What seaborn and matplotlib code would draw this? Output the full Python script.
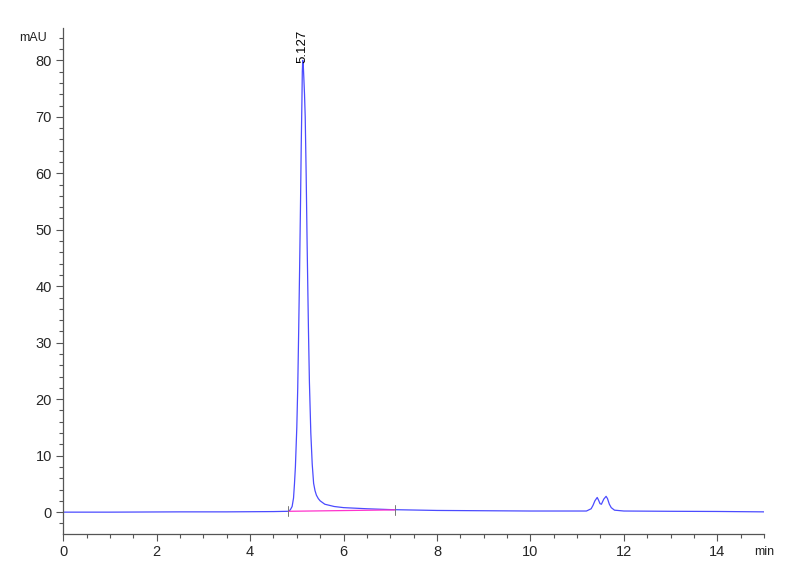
import seaborn as sns
import matplotlib.pyplot as plt
from matplotlib.ticker import MultipleLocator
import pandas as pd

# Chromatogram trace (time in min, signal in mAU)
time_min = [0.0, 1.0, 2.5, 3.5, 4.5, 4.82, 4.86, 4.9, 4.93, 4.95, 4.97, 5.0, 5.02,
            5.04, 5.06, 5.08, 5.095, 5.11, 5.118, 5.127, 5.137, 5.15, 5.165, 5.18,
            5.2, 5.22, 5.235, 5.25, 5.27, 5.3, 5.33, 5.36, 5.39, 5.42, 5.46, 5.5,
            5.6, 5.8, 6.0, 6.5, 7.0, 8.0, 9.0, 10.0, 11.2, 11.3, 11.34, 11.38,
            11.43, 11.46, 11.49, 11.52, 11.57, 11.62, 11.65, 11.69, 11.73, 11.8,
            12.0, 13.0, 14.0, 15.0]
signal_mau = [0.0, 0.0, 0.05, 0.05, 0.1, 0.15, 0.4, 1.0, 2.5, 5.0, 8.0, 15.0, 22.0,
              32.0, 43.0, 55.0, 65.0, 73.0, 78.0, 80.0, 79.5, 77.0, 74.0, 70.0,
              60.0, 48.0, 40.0, 32.0, 23.0, 14.0, 8.5, 5.1, 3.8, 3.0, 2.4, 2.0,
              1.4, 1.0, 0.8, 0.6, 0.45, 0.3, 0.25, 0.2, 0.2, 0.6, 1.2, 2.0,
              2.6, 2.1, 1.5, 1.4, 2.3, 2.8, 2.4, 1.4, 0.8, 0.35,
              0.2, 0.15, 0.12, 0.05]

# integration baseline of the main peak
base_time = [4.82, 7.1]
base_level = [0.15, 0.4]

peak_rt = 5.127
peak_height = 80.0

df = pd.DataFrame({"time": time_min, "signal": signal_mau})

sns.set_theme(style="ticks")
plt.rcParams["font.family"] = ["Liberation Sans", "DejaVu Sans"]

fig = plt.figure(figsize=(8, 5.87), dpi=100)
ax = fig.add_axes([0.079, 0.09, 0.876, 0.863])

sns.lineplot(data=df, x="time", y="signal", ax=ax, color="#4b4bff", lw=0.9)

# baseline + start/end markers
ax.plot(base_time, base_level, color="#ff33cc", lw=0.9)
for bt, bl in zip(base_time, base_level):
    ax.plot([bt, bt], [bl - 0.9, bl + 0.9], color="#777777", lw=0.7)

ax.text(peak_rt, peak_height - 0.5, f"{peak_rt:.3f}", rotation=90,
        ha="center", va="bottom", fontsize=9.5, color="black")

ax.set_xlim(0, 15)
ax.set_ylim(-3.9, 85.8)
ax.xaxis.set_minor_locator(MultipleLocator(0.5))
ax.yaxis.set_minor_locator(MultipleLocator(2))
ax.set_xticks([0, 2, 4, 6, 8, 10, 12, 14])
ax.set_yticks([0, 10, 20, 30, 40, 50, 60, 70, 80])
ax.tick_params(axis="both", which="major", length=5, width=0.8, color="#555555",
               labelsize=10.5, pad=3)
ax.tick_params(axis="both", which="minor", length=3, width=0.8, color="#555555")
ax.set_xlabel("")
ax.set_ylabel("")

ax.text(15, -7.0, "min", ha="center", va="center", fontsize=9, color="#222222")
ax.text(-0.35, 84, "mAU", ha="right", va="center", fontsize=9, color="#222222")

sns.despine(ax=ax)
for side in ["left", "bottom"]:
    ax.spines[side].set_color("#555555")
    ax.spines[side].set_linewidth(0.9)

fig.savefig("out.png", dpi=100)
